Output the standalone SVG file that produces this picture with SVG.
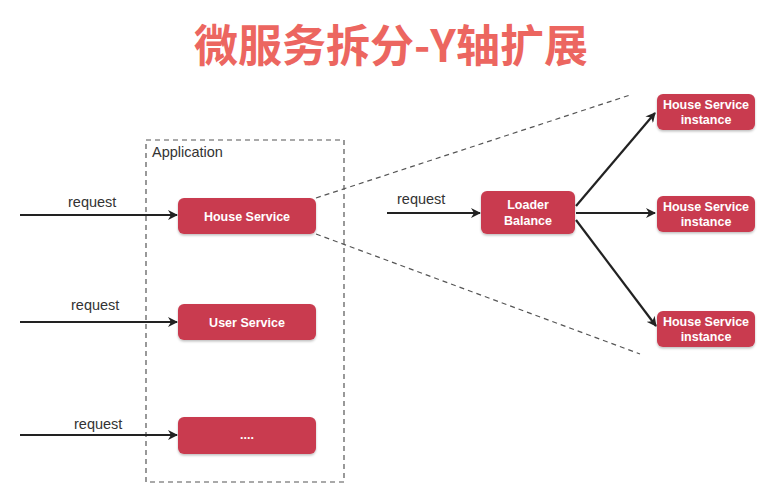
<svg xmlns="http://www.w3.org/2000/svg" width="782" height="501" viewBox="0 0 782 501">
<defs>
<marker id="ah" viewBox="0 0 10 10" refX="9" refY="5" markerWidth="10" markerHeight="10" markerUnits="userSpaceOnUse" orient="auto">
<path d="M0,0 L10,5 L0,10 L3,5 Z" fill="#222"/>
</marker>
<filter id="sh" x="-10%" y="-20%" width="120%" height="150%">
<feDropShadow dx="0" dy="1.5" stdDeviation="1.2" flood-color="#000" flood-opacity="0.25"/>
</filter>
</defs>
<style>
.node{fill:#c93b4f;filter:url(#sh)}
.nt{font-family:"Liberation Sans",Arial,sans-serif;font-weight:bold;font-size:12.5px;fill:#fff;text-anchor:middle}
.lbl{font-family:"Liberation Sans",Arial,sans-serif;font-size:14.5px;fill:#333}
.arr{stroke:#222;stroke-width:2.2;fill:none;marker-end:url(#ah)}
.dash{stroke:#555;stroke-width:1.2;stroke-dasharray:5,4;fill:none}
</style>
<rect width="782" height="501" fill="#fff"/>
<text x="391" y="62" text-anchor="middle" font-family="'Noto Sans CJK SC',sans-serif" font-weight="bold" font-size="44" fill="#ec6660">微服务拆分-Y轴扩展</text>

<g id="application">
<rect x="146" y="140" width="198" height="342" class="dash"/>
<text x="152" y="157" class="lbl">Application</text>
</g>

<g id="connectors">
<path class="arr" d="M20,215 L177,215"/>
<path class="arr" d="M20,322 L177,322"/>
<path class="arr" d="M20,435 L177,435"/>
<path class="arr" d="M387,213 L480,213"/>
<path class="arr" d="M576,206 L655,113"/>
<path class="arr" d="M576,213 L655,213"/>
<path class="arr" d="M576,220 L656,326"/>
<path class="dash" d="M316,198 L630,95"/>
<path class="dash" d="M316,234 L640,354"/>
<text x="68" y="207" class="lbl">request</text>
<text x="71" y="310" class="lbl">request</text>
<text x="74" y="429" class="lbl">request</text>
<text x="397" y="204" class="lbl">request</text>
</g>

<g id="house-service">
<rect x="178" y="198" width="138" height="36" rx="6" class="node"/>
<text x="247" y="220.5" class="nt">House Service</text>
</g>
<g id="user-service">
<rect x="178" y="304" width="138" height="36" rx="6" class="node"/>
<text x="247" y="326.5" class="nt">User Service</text>
</g>
<g id="more-service">
<rect x="178" y="417" width="138" height="37" rx="6" class="node"/>
<text x="247" y="439" class="nt">....</text>
</g>
<g id="loader-balance">
<rect x="481" y="191" width="94" height="43" rx="6" class="node"/>
<text x="528" y="209" class="nt">Loader</text>
<text x="528" y="225" class="nt">Balance</text>
</g>
<g id="instance-1">
<rect x="657" y="94" width="98" height="36" rx="6" class="node"/>
<text x="706" y="109" class="nt">House Service</text>
<text x="706" y="124" class="nt">instance</text>
</g>
<g id="instance-2">
<rect x="657" y="196" width="98" height="36" rx="6" class="node"/>
<text x="706" y="211" class="nt">House Service</text>
<text x="706" y="226" class="nt">instance</text>
</g>
<g id="instance-3">
<rect x="657" y="311" width="98" height="36" rx="6" class="node"/>
<text x="706" y="326" class="nt">House Service</text>
<text x="706" y="341" class="nt">instance</text>
</g>
</svg>
